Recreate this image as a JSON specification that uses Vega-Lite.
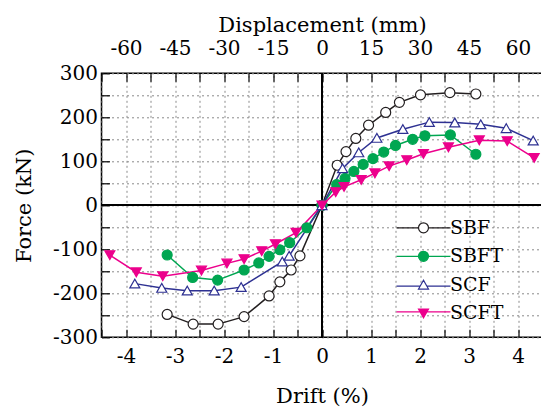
{
  "$schema": "https://vega.github.io/schema/vega-lite/v6.json",
  "width": 441,
  "height": 264,
  "autosize": "none",
  "padding": {"left": 101.5, "top": 73.3, "right": 0, "bottom": 70.7},
  "background": "white",
  "config": {
    "font": "DejaVu Serif",
    "view": {"stroke": "black", "strokeWidth": 1.5},
    "axis": {
      "labelFont": "DejaVu Serif",
      "labelFontSize": 20,
      "labelColor": "black",
      "titleFont": "DejaVu Serif",
      "titleFontSize": 21,
      "titleFontWeight": "normal",
      "titleColor": "black",
      "tickColor": "black",
      "tickWidth": 1.2,
      "tickSize": -8,
      "domain": false,
      "gridColor": "#8a8a8a",
      "gridDash": [2, 3],
      "gridWidth": 1,
      "labelFlush": false,
      "labelOverlap": false
    },
    "legend": {
      "labelFont": "DejaVu Serif",
      "labelFontSize": 19,
      "labelColor": "black"
    }
  },
  "data": {
    "values": [
      {"series": "SBF", "drift": -3.16, "force": -248},
      {"series": "SBF", "drift": -2.63, "force": -270},
      {"series": "SBF", "drift": -2.12, "force": -270},
      {"series": "SBF", "drift": -1.59, "force": -253},
      {"series": "SBF", "drift": -1.08, "force": -206},
      {"series": "SBF", "drift": -0.86, "force": -174},
      {"series": "SBF", "drift": -0.63, "force": -147},
      {"series": "SBF", "drift": -0.45, "force": -115},
      {"series": "SBF", "drift": 0, "force": 0},
      {"series": "SBF", "drift": 0.31, "force": 91},
      {"series": "SBF", "drift": 0.49, "force": 122},
      {"series": "SBF", "drift": 0.69, "force": 152},
      {"series": "SBF", "drift": 0.95, "force": 182},
      {"series": "SBF", "drift": 1.30, "force": 211},
      {"series": "SBF", "drift": 1.58, "force": 234},
      {"series": "SBF", "drift": 2.01, "force": 251},
      {"series": "SBF", "drift": 2.61, "force": 256},
      {"series": "SBF", "drift": 3.14, "force": 253},

      {"series": "SBFT", "drift": -3.16, "force": -113},
      {"series": "SBFT", "drift": -2.64, "force": -164},
      {"series": "SBFT", "drift": -2.13, "force": -170},
      {"series": "SBFT", "drift": -1.59, "force": -147},
      {"series": "SBFT", "drift": -1.29, "force": -131},
      {"series": "SBFT", "drift": -1.08, "force": -116},
      {"series": "SBFT", "drift": -0.86, "force": -101},
      {"series": "SBFT", "drift": -0.66, "force": -85},
      {"series": "SBFT", "drift": -0.31, "force": -51},
      {"series": "SBFT", "drift": 0, "force": 0},
      {"series": "SBFT", "drift": 0.30, "force": 47},
      {"series": "SBFT", "drift": 0.47, "force": 61},
      {"series": "SBFT", "drift": 0.65, "force": 77},
      {"series": "SBFT", "drift": 0.84, "force": 93},
      {"series": "SBFT", "drift": 1.04, "force": 106},
      {"series": "SBFT", "drift": 1.26, "force": 121},
      {"series": "SBFT", "drift": 1.50, "force": 136},
      {"series": "SBFT", "drift": 1.85, "force": 150},
      {"series": "SBFT", "drift": 2.10, "force": 158},
      {"series": "SBFT", "drift": 2.62, "force": 160},
      {"series": "SBFT", "drift": 3.14, "force": 116},

      {"series": "SCF", "drift": -3.82, "force": -178},
      {"series": "SCF", "drift": -3.27, "force": -188},
      {"series": "SCF", "drift": -2.75, "force": -194},
      {"series": "SCF", "drift": -2.20, "force": -194},
      {"series": "SCF", "drift": -1.65, "force": -186},
      {"series": "SCF", "drift": -0.81, "force": -128},
      {"series": "SCF", "drift": -0.67, "force": -115},
      {"series": "SCF", "drift": 0, "force": 0},
      {"series": "SCF", "drift": 0.42, "force": 84},
      {"series": "SCF", "drift": 0.75, "force": 120},
      {"series": "SCF", "drift": 1.12, "force": 153},
      {"series": "SCF", "drift": 1.65, "force": 173},
      {"series": "SCF", "drift": 2.19, "force": 189},
      {"series": "SCF", "drift": 2.71, "force": 188},
      {"series": "SCF", "drift": 3.24, "force": 184},
      {"series": "SCF", "drift": 3.76, "force": 175},
      {"series": "SCF", "drift": 4.31, "force": 147},

      {"series": "SCFT", "drift": -4.33, "force": -113},
      {"series": "SCFT", "drift": -3.79, "force": -152},
      {"series": "SCFT", "drift": -3.25, "force": -161},
      {"series": "SCFT", "drift": -2.46, "force": -148},
      {"series": "SCFT", "drift": -1.94, "force": -132},
      {"series": "SCFT", "drift": -1.59, "force": -122},
      {"series": "SCFT", "drift": -1.23, "force": -104},
      {"series": "SCFT", "drift": -0.95, "force": -88},
      {"series": "SCFT", "drift": -0.53, "force": -62},
      {"series": "SCFT", "drift": 0, "force": 0},
      {"series": "SCFT", "drift": 0.28, "force": 30},
      {"series": "SCFT", "drift": 0.45, "force": 42},
      {"series": "SCFT", "drift": 0.80, "force": 58},
      {"series": "SCFT", "drift": 1.08, "force": 73},
      {"series": "SCFT", "drift": 1.37, "force": 89},
      {"series": "SCFT", "drift": 1.73, "force": 103},
      {"series": "SCFT", "drift": 2.07, "force": 117},
      {"series": "SCFT", "drift": 2.58, "force": 132},
      {"series": "SCFT", "drift": 3.21, "force": 148},
      {"series": "SCFT", "drift": 3.78, "force": 146},
      {"series": "SCFT", "drift": 4.33, "force": 108}
    ]
  },
  "layer": [
    {
      "mark": {"type": "rule", "color": "black", "strokeWidth": 1.5},
      "encoding": {
        "y": {"datum": 0, "type": "quantitative", "axis": {
          "orient": "left", "title": "Force (kN)", "grid": true,
          "labelFont": "DejaVu Serif", "titleFont": "DejaVu Serif",
          "values": [-300, -250, -200, -150, -100, -50, 0, 50, 100, 150, 200, 250, 300],
          "labelExpr": "datum.value % 100 === 0 ? '' + datum.value : ''",
          "labelPadding": 12, "titlePadding": 18
        }}
      }
    },
    {
      "mark": {"type": "rule", "color": "black", "strokeWidth": 1.5},
      "encoding": {
        "x": {"datum": 0, "type": "quantitative", "axis": {
          "orient": "bottom", "title": "Drift (%)", "grid": true,
          "labelFont": "DejaVu Serif", "titleFont": "DejaVu Serif",
          "values": [-4.5, -4, -3.5, -3, -2.5, -2, -1.5, -1, -0.5, 0, 0.5, 1, 1.5, 2, 2.5, 3, 3.5, 4, 4.5],
          "labelExpr": "datum.value % 1 === 0 ? '' + datum.value : ''",
          "labelPadding": 17, "titlePadding": 19
        }}
      }
    },
    {
      "mark": {"type": "line", "strokeWidth": 1.5},
      "encoding": {
        "x": {"field": "drift", "type": "quantitative", "scale": {"domain": [-4.5, 4.5], "nice": false, "zero": false}, "axis": {
          "orient": "top", "title": "Displacement (mm)", "grid": false,
          "labelFont": "DejaVu Serif", "titleFont": "DejaVu Serif",
          "values": [-4.5, -4, -3.5, -3, -2.5, -2, -1.5, -1, -0.5, 0, 0.5, 1, 1.5, 2, 2.5, 3, 3.5, 4, 4.5],
          "labelExpr": "datum.value % 1 === 0 ? '' + (datum.value * 15) : ''",
          "labelPadding": 23, "titlePadding": 3
        }},
        "y": {"field": "force", "type": "quantitative", "scale": {"domain": [-300, 300], "nice": false}, "axis": null},
        "stroke": {"field": "series", "type": "nominal", "scale": {"domain": ["SBF", "SBFT", "SCF", "SCFT"], "range": ["#231f20", "#00a651", "#2e3192", "#ec008c"]}, "legend": null}
      }
    },
    {
      "mark": {"type": "point", "size": 100, "strokeWidth": 1.2, "opacity": 1},
      "encoding": {
        "x": {"field": "drift", "type": "quantitative", "axis": null},
        "y": {"field": "force", "type": "quantitative", "axis": null},
        "stroke": {"field": "series", "type": "nominal", "scale": {"domain": ["SBF", "SBFT", "SCF", "SCFT"], "range": ["#231f20", "#00a651", "#2e3192", "#ec008c"]}, "legend": null},
        "fill": {"field": "series", "type": "nominal", "scale": {"domain": ["SBF", "SBFT", "SCF", "SCFT"], "range": ["white", "#00a651", "white", "#ec008c"]}, "legend": null},
        "shape": {"field": "series", "type": "nominal", "scale": {"domain": ["SBF", "SBFT", "SCF", "SCFT"], "range": ["circle", "circle", "M-1,0.85L1,0.85L0,-0.9Z", "M-1,-0.85L1,-0.85L0,0.9Z"]}, "legend": null}
      }
    },
    {
      "transform": [{"filter": "datum.drift > 100"}],
      "mark": {"type": "point", "size": 100, "strokeWidth": 1.2, "opacity": 1},
      "encoding": {
        "x": {"field": "drift", "type": "quantitative", "axis": null},
        "y": {"field": "force", "type": "quantitative", "axis": null},
        "stroke": {"field": "series", "type": "nominal", "scale": {"domain": ["SBF", "SBFT", "SCF", "SCFT"], "range": ["#231f20", "#00a651", "#2e3192", "#ec008c"]}, "legend": {
          "title": null, "orient": "none", "legendX": 312.5, "legendY": 145, "padding": 0,
          "symbolSize": 100, "symbolStrokeWidth": 1.2, "symbolOpacity": 1, "labelOffset": 17, "rowPadding": 8.5
        }},
        "fill": {"field": "series", "type": "nominal", "scale": {"domain": ["SBF", "SBFT", "SCF", "SCFT"], "range": ["white", "#00a651", "white", "#ec008c"]}, "legend": {
          "title": null, "orient": "none", "legendX": 312.5, "legendY": 145, "padding": 0,
          "symbolSize": 100, "symbolStrokeWidth": 1.2, "symbolOpacity": 1, "labelOffset": 17, "rowPadding": 8.5
        }},
        "shape": {"field": "series", "type": "nominal", "scale": {"domain": ["SBF", "SBFT", "SCF", "SCFT"], "range": [
          "M-5.4,0H-1M1,0H5.4M-1,0A1,1,0,1,0,1,0A1,1,0,1,0,-1,0Z",
          "M-5.4,0H5.4M-1,0A1,1,0,1,0,1,0A1,1,0,1,0,-1,0Z",
          "M-5.4,0.25H-0.66M0.66,0.25H5.4M-1,0.85L1,0.85L0,-0.9Z",
          "M-5.4,-0.3H5.4M-1,-0.85L1,-0.85L0,0.9Z"
        ]}, "legend": {
          "title": null, "orient": "none", "legendX": 312.5, "legendY": 145, "padding": 0,
          "symbolSize": 100, "symbolStrokeWidth": 1.2, "symbolOpacity": 1, "labelOffset": 17, "rowPadding": 8.5
        }}
      }
    }
  ],
  "resolve": {
    "axis": {"x": "independent", "y": "independent"},
    "scale": {"stroke": "independent", "fill": "independent", "shape": "independent"},
    "legend": {"stroke": "independent", "fill": "independent", "shape": "independent"}
  }
}
